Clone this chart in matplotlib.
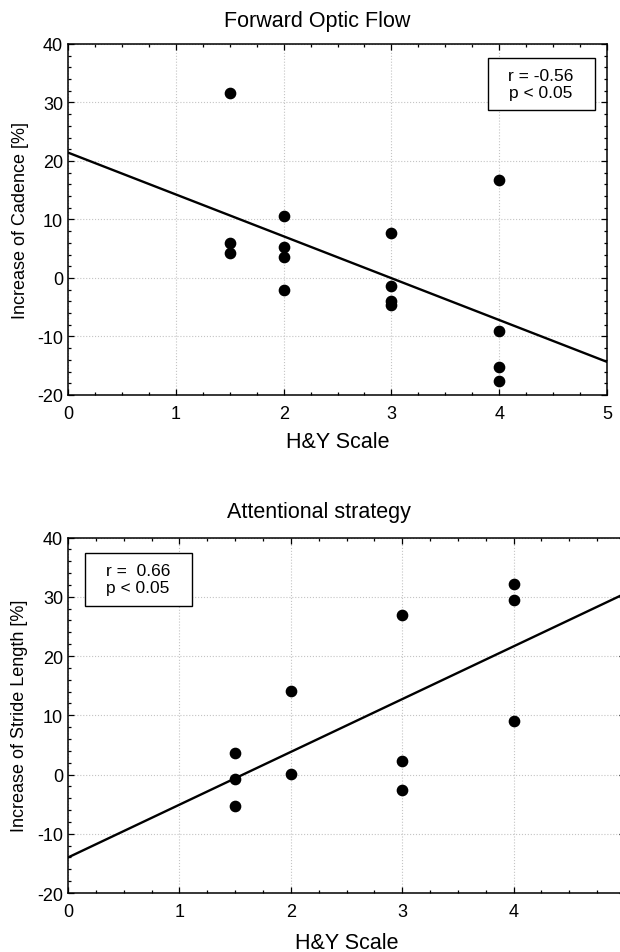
import numpy as np
import matplotlib
matplotlib.use("Agg")
import matplotlib.pyplot as plt
from matplotlib.patches import Rectangle
from matplotlib.ticker import MultipleLocator

plt.rcParams['font.family'] = ['Liberation Sans', 'DejaVu Sans']
plt.rcParams['axes.unicode_minus'] = False

# data
hy_flow = [1.5, 1.5, 1.5, 2, 2, 2, 2, 3, 3, 3, 3, 4, 4, 4, 4]
cadence = [31.6, 5.9, 4.2, 10.65, 5.3, 3.6, -2.0, 7.75, -1.35, -4.0, -4.65,
           16.7, -9.1, -15.3, -17.6]

hy_attn = [1.5, 1.5, 1.5, 2, 2, 3, 3, 3, 4, 4, 4]
stride = [3.6, -0.8, -5.3, 14.1, 0.1, 26.9, 2.2, -2.6, 32.1, 29.4, 9.1]

titles = ["Forward Optic Flow", "Attentional strategy"]
ylabels = ["Increase of Cadence [%]", "Increase of Stride Length [%]"]
stats = ["r = -0.56\np < 0.05", "r =  0.66\np < 0.05"]
xlabel = "H&Y Scale"
xticks = [0, 1, 2, 3, 4, 5]
yticks = [-20, -10, 0, 10, 20, 30, 40]

fig = plt.figure(figsize=(6.2, 9.53), dpi=100)
ax1 = fig.add_axes([0.1097, 0.5845, 0.8694, 0.3683])
ax2 = fig.add_axes([0.1097, 0.0619, 0.8984, 0.3730])


def draw_panel(ax, x, y, ylab, stat, box, text_xy):
    ax.plot(x, y, 'o', color='black', ms=7.4, zorder=3)
    slope, icept = np.polyfit(x, y, 1)
    xs = np.array([0, 5])
    ax.plot(xs, icept + slope * xs, color='black', lw=1.7, zorder=2)

    ax.set_xlim(0, 5)
    ax.set_ylim(-20, 40)
    ax.set_xticks(xticks)
    ax.set_yticks(yticks)
    ax.xaxis.set_minor_locator(MultipleLocator(0.25))
    ax.yaxis.set_minor_locator(MultipleLocator(2))
    ax.tick_params(which='both', direction='in', top=True, right=True,
                   color='black', width=0.9)
    ax.tick_params(which='major', length=4, labelsize=13)
    ax.tick_params(which='minor', length=2.5)
    ax.tick_params(axis='x', pad=7)
    ax.tick_params(axis='y', pad=3.5)
    ax.grid(True, which='major', color='#c4c4c4', ls=':', lw=0.8)
    for s in ax.spines.values():
        s.set_linewidth(1.1)

    ax.set_ylabel(ylab, fontsize=13)
    ax.yaxis.set_label_coords(-0.072, 0.5)
    ax.set_xlabel(xlabel, fontsize=15.5)

    ax.add_patch(Rectangle(box[:2], box[2], box[3], transform=ax.transAxes,
                           fill=True, facecolor='white', edgecolor='black',
                           lw=1.0, zorder=4))
    ax.text(text_xy[0], text_xy[1], stat, transform=ax.transAxes,
            ha='center', va='center', fontsize=12.5, linespacing=1.12,
            zorder=5)


draw_panel(ax1, hy_flow, cadence, ylabels[0], stats[0],
           (0.779, 0.812, 0.199, 0.148), (0.8776, 0.886))
ax1.xaxis.set_label_coords(0.5, -0.104)

draw_panel(ax2, hy_attn, stride, ylabels[1], stats[1],
           (0.0305, 0.808, 0.1915, 0.148), (0.1257, 0.883))
ax2.xaxis.set_label_coords(0.5, -0.11)

fig.text(0.511, 0.977, titles[0], ha='center', va='center', fontsize=15.5)
fig.text(0.514, 0.4617, titles[1], ha='center', va='center', fontsize=15.5)

fig.savefig("out.png", dpi=100)
